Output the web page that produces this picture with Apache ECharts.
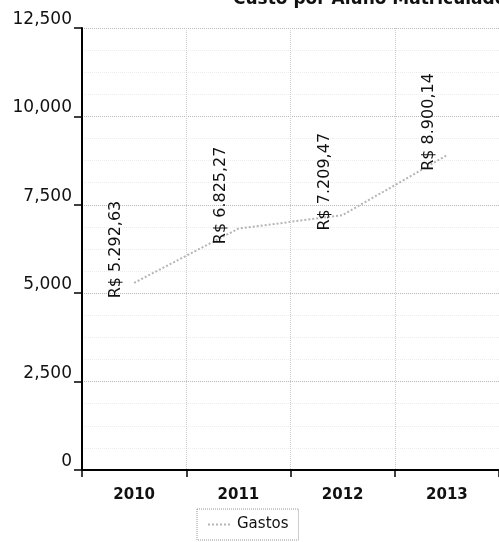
<!DOCTYPE html>
<html><head><meta charset="utf-8">
<script src="https://cdn.jsdelivr.net/npm/echarts@6/dist/echarts.min.js"></script>
<style>html,body{margin:0;padding:0;background:#fff}#c{width:499px;height:542px}</style>
</head><body><div id="c"></div>
<script>
var categories = ['2010', '2011', '2012', '2013'];
var gastos = [5292.63, 6825.27, 7209.47, 8900.14];
var yTicks = [0, 2500, 5000, 7500, 10000, 12500];

function brl(v) {
  var p = v.toFixed(2).split('.');
  return 'R$ ' + p[0].replace(/\B(?=(\d{3})+(?!\d))/g, '.') + ',' + p[1];
}

var chart = echarts.init(document.getElementById('c'));
chart.setOption({
  animation: false,
  backgroundColor: '#fff',
  graphic: [{
    type: 'text', left: 233, top: -9,
    style: { text: 'Custo por Aluno Matriculado', font: 'bold 17px "DejaVu Sans"', fill: '#111' }
  }],
  grid: { left: 82, right: -2, top: 28, bottom: 72 },
  legend: {
    data: ['Gastos'], left: 197, top: 509, itemWidth: 24, itemHeight: 10,
    borderColor: '#999', borderWidth: 1, borderType: 'dotted', padding: [8, 10],
    textStyle: { fontFamily: 'DejaVu Sans', fontSize: 15, color: '#111' }
  },
  xAxis: {
    type: 'category', data: categories, boundaryGap: true,
    axisLine: { lineStyle: { color: '#000', width: 2 } },
    axisTick: { show: true, length: 7, lineStyle: { color: '#000', width: 1.5 } },
    axisLabel: { margin: 18, color: '#111', fontFamily: 'DejaVu Sans', fontSize: 15, fontWeight: 'bold' },
    splitLine: { show: true, lineStyle: { color: '#ccc', type: 'dotted' } }
  },
  yAxis: {
    type: 'value', min: 0, max: 12500, interval: 2500,
    axisLine: { show: true, lineStyle: { color: '#000', width: 2 } },
    axisTick: { show: true, length: 8, lineStyle: { color: '#000', width: 1.5 } },
    axisLabel: {
      margin: 10, color: '#111', fontFamily: 'DejaVu Sans', fontSize: 17, verticalAlign: 'bottom',
      formatter: function (v) { return v.toLocaleString('en-US'); }
    },
    splitLine: { show: true, lineStyle: { color: '#bbb', type: 'dotted' } },
    minorTick: { show: false, splitNumber: 4 },
    minorSplitLine: { show: true, lineStyle: { color: '#ececec', type: 'dotted' } }
  },
  series: [{
    name: 'Gastos', type: 'line', data: gastos,
    symbol: 'circle', symbolSize: 1, showSymbol: true,
    lineStyle: { color: '#b5b5b5', width: 2, type: 'dotted' },
    itemStyle: { color: 'rgba(181,181,181,0)', borderWidth: 0 },
    label: {
      show: true, position: 'top', rotate: 90, align: 'left', verticalAlign: 'middle',
      distance: 0, offset: [-16, -18],
      color: '#111', fontFamily: 'DejaVu Sans', fontSize: 16,
      formatter: function (p) { return brl(p.value); }
    }
  }]
});
</script></body></html>
